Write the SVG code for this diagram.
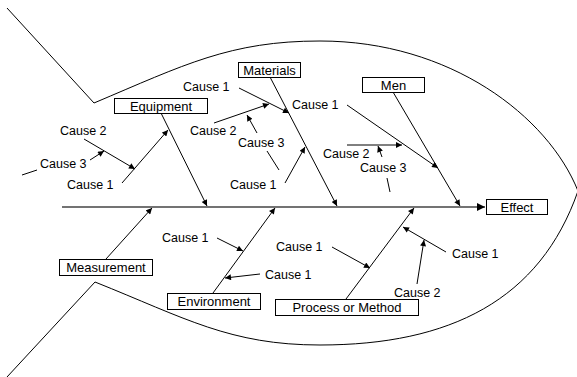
<svg xmlns="http://www.w3.org/2000/svg" width="577" height="377" viewBox="0 0 577 377">
<style>
.ln{stroke:#000;stroke-width:1;fill:none}
.ar{stroke:#000;stroke-width:1;fill:none;marker-end:url(#ah)}
.box{fill:#fff;stroke:#000;stroke-width:1}
.bt{font-family:"Liberation Sans",Arial,sans-serif;font-size:13px;fill:#000;text-anchor:middle}
.ct{font-family:"Liberation Sans",Arial,sans-serif;font-size:12.5px;fill:#000}
</style>
<defs>
<marker id="ah" viewBox="0 0 10 10" refX="10" refY="5" markerWidth="7" markerHeight="6" markerUnits="userSpaceOnUse" orient="auto">
<path d="M0,0 L10,5 L0,10 z" fill="#000"/>
</marker>
<marker id="ahb" viewBox="0 0 10 10" refX="10" refY="5" markerWidth="9" markerHeight="8" markerUnits="userSpaceOnUse" orient="auto">
<path d="M0,0 L10,5 L0,10 z" fill="#000"/>
</marker>
</defs>
<rect width="577" height="377" fill="#fff"/>
<g id="fish">
<path class="ln" d="M7,8 L94,103 C184,65 230,41 320,41 C450,41 548,116 578,191"/>
<path class="ln" d="M7,377 L95,282 C185,318 230,345 320,345 C450,345 540,300 578,191"/>
</g>
<g id="connectors">
<line x1="62" y1="207" x2="485" y2="207" stroke="#444" stroke-width="1.5" marker-end="url(#ahb)"/>
<line class="ar" x1="161" y1="113" x2="207" y2="206"/>
<line class="ar" x1="270" y1="77" x2="337" y2="206"/>
<line class="ar" x1="393" y1="92" x2="460" y2="206"/>
<line class="ar" x1="106" y1="259" x2="152" y2="208"/>
<line class="ar" x1="213" y1="293" x2="275" y2="208"/>
<line class="ar" x1="346" y1="299" x2="414" y2="208"/>
<line class="ar" x1="122" y1="183" x2="168" y2="130"/>
<line class="ar" x1="84" y1="139" x2="135" y2="169"/>
<line class="ar" x1="90" y1="160" x2="104" y2="151"/>
<line class="ln" x1="22" y1="175" x2="37" y2="170"/>
<line class="ar" x1="239" y1="88" x2="289" y2="113"/>
<line class="ar" x1="214" y1="123" x2="269" y2="104"/>
<line class="ar" x1="257" y1="133" x2="247" y2="115"/>
<line class="ln" x1="267" y1="151" x2="279" y2="170"/>
<line class="ar" x1="285" y1="183" x2="305" y2="147"/>
<line class="ar" x1="347" y1="105" x2="438" y2="168"/>
<line class="ar" x1="347" y1="145" x2="402" y2="145"/>
<line class="ar" x1="382" y1="157" x2="378" y2="146"/>
<line class="ln" x1="387" y1="178" x2="390" y2="192"/>
<line class="ar" x1="217" y1="238" x2="243" y2="251"/>
<line class="ar" x1="260" y1="274" x2="225" y2="278"/>
<line class="ar" x1="332" y1="247" x2="370" y2="268"/>
<line class="ar" x1="446" y1="252" x2="403" y2="227"/>
<line class="ar" x1="417" y1="284" x2="424" y2="240"/>
</g>
<g id="effect"><rect class="box" x="486.5" y="199.5" width="61" height="15"/><text class="bt" x="517" y="211.5">Effect</text></g>
<g id="equipment"><rect class="box" x="114.5" y="98.5" width="93" height="15"/><text class="bt" x="161" y="110.5">Equipment</text></g>
<g id="materials"><rect class="box" x="238.5" y="62.5" width="62" height="15"/><text class="bt" x="269.5" y="74.5">Materials</text></g>
<g id="men"><rect class="box" x="362.5" y="77.5" width="62" height="15"/><text class="bt" x="393.5" y="89.5">Men</text></g>
<g id="measurement"><rect class="box" x="59.5" y="259.5" width="93" height="16"/><text class="bt" x="106" y="272">Measurement</text></g>
<g id="environment"><rect class="box" x="167.5" y="293.5" width="93" height="16"/><text class="bt" x="214" y="306">Environment</text></g>
<g id="process"><rect class="box" x="275.5" y="299.5" width="143" height="16"/><text class="bt" x="347" y="312">Process or Method</text></g>
<g id="causes">
<text class="ct" x="67" y="188.5">Cause 1</text>
<text class="ct" x="60" y="134.5">Cause 2</text>
<text class="ct" x="40" y="167.5">Cause 3</text>
<text class="ct" x="183" y="90.5">Cause 1</text>
<text class="ct" x="190" y="134.5">Cause 2</text>
<text class="ct" x="238" y="146.5">Cause 3</text>
<text class="ct" x="230" y="188.5">Cause 1</text>
<text class="ct" x="292" y="108.5">Cause 1</text>
<text class="ct" x="323" y="157.5">Cause 2</text>
<text class="ct" x="360" y="171.5">Cause 3</text>
<text class="ct" x="162" y="241.5">Cause 1</text>
<text class="ct" x="265" y="278.5">Cause 1</text>
<text class="ct" x="276" y="250.5">Cause 1</text>
<text class="ct" x="452" y="257.5">Cause 1</text>
<text class="ct" x="394" y="296.5">Cause 2</text>
</g>
</svg>
